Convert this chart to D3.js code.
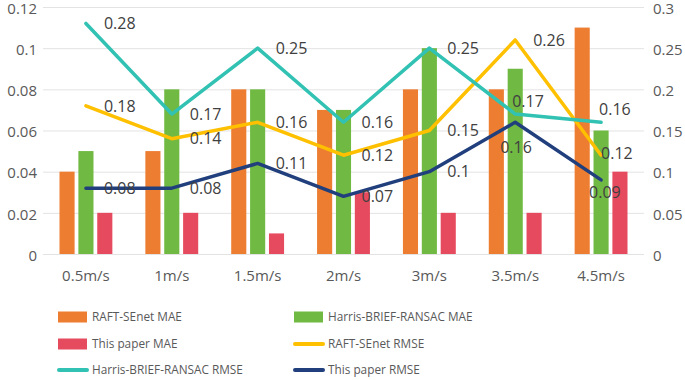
<!DOCTYPE html>
<html>
<head>
<meta charset="utf-8">
<script src="https://cdn.jsdelivr.net/npm/d3@7"></script>
<style>
  body { margin: 0; background: #fff; }
  svg { font-family: "Open Sans", sans-serif; }
</style>
</head>
<body>
<svg id="chart" width="685" height="380"></svg>
<script>
// categories and values
const speeds = ["0.5m/s", "1m/s", "1.5m/s", "2m/s", "3m/s", "3.5m/s", "4.5m/s"];
const raftMAE = [0.04, 0.05, 0.08, 0.07, 0.08, 0.08, 0.11];
const harrisMAE = [0.05, 0.08, 0.08, 0.07, 0.10, 0.09, 0.06];
const paperMAE = [0.02, 0.02, 0.01, 0.03, 0.02, 0.02, 0.04];
const raftRMSE = [0.18, 0.14, 0.16, 0.12, 0.15, 0.26, 0.12];
const harrisRMSE = [0.28, 0.17, 0.25, 0.16, 0.25, 0.17, 0.16];
const paperRMSE = [0.08, 0.08, 0.11, 0.07, 0.10, 0.16, 0.09];
const leftTicks = [0, 0.02, 0.04, 0.06, 0.08, 0.1, 0.12];
const rightTicks = [0, 0.05, 0.1, 0.15, 0.2, 0.25, 0.3];

const barSeries = [
  { name: "RAFT-SEnet MAE", values: raftMAE, color: "#ED7D31" },
  { name: "Harris-BRIEF-RANSAC MAE", values: harrisMAE, color: "#70B942" },
  { name: "This paper MAE", values: paperMAE, color: "#E64A5E" }
];
const lineSeries = [
  { name: "RAFT-SEnet RMSE", values: raftRMSE, color: "#FFC000" },
  { name: "Harris-BRIEF-RANSAC RMSE", values: harrisRMSE, color: "#31C2B3" },
  { name: "This paper RMSE", values: paperRMSE, color: "#203F7C" }
];

// some labels were moved by hand in the original to avoid overlaps
const labelNudge = {
  "Harris-BRIEF-RANSAC RMSE|5": [-21, -13],
  "This paper RMSE|5": [-33, 25],
  "Harris-BRIEF-RANSAC RMSE|6": [-20, -13],
  "RAFT-SEnet RMSE|6": [-18, -2],
  "This paper RMSE|6": [-30, 12]
};

const svg = d3.select("#chart");
const margin = { left: 43, right: 644, top: 7, bottom: 254 };

const x = d3.scaleBand().domain(speeds).range([margin.left, margin.right]);
const bw = x.bandwidth();
const x1 = d3.scaleBand().domain(barSeries.map(d => d.name))
  .range([16.5, bw - 16.5]).paddingInner(0.2);
const yL = d3.scaleLinear().domain([0, 0.12]).range([margin.bottom, margin.top]);
const yR = d3.scaleLinear().domain([0, 0.3]).range([margin.bottom, margin.top]);
const fmt = d => String(+d.toFixed(2));

// gridlines
svg.append("g").selectAll("line")
  .data(leftTicks)
  .enter().append("line")
  .attr("x1", margin.left).attr("x2", margin.right)
  .attr("y1", d => yL(d) + 0.5).attr("y2", d => yL(d) + 0.5)
  .attr("stroke", "#e3e3e3").attr("stroke-width", 1);

// left axis
const axL = svg.append("g")
  .attr("transform", `translate(${margin.left - 6},0)`)
  .call(d3.axisLeft(yL).tickValues(leftTicks).tickSize(0).tickPadding(0).tickFormat(fmt));
axL.select(".domain").remove();
axL.selectAll("text").attr("fill", "#595959").attr("dy", "0.42em").style("font-size", "15px").style("font-family", "Open Sans");

// right axis
const axR = svg.append("g")
  .attr("transform", `translate(${margin.right + 9},0)`)
  .call(d3.axisRight(yR).tickValues(rightTicks).tickSize(0).tickPadding(0).tickFormat(fmt));
axR.select(".domain").remove();
axR.selectAll("text").attr("fill", "#595959").attr("dy", "0.42em").style("font-size", "15px").style("font-family", "Open Sans");

// bottom axis
const axB = svg.append("g")
  .attr("transform", `translate(0,${margin.bottom + 16})`)
  .call(d3.axisBottom(x).tickSize(0).tickPadding(0));
axB.select(".domain").remove();
axB.selectAll("text").attr("fill", "#595959").style("font-size", "15px").style("font-family", "Open Sans");

// bars
barSeries.forEach(s => {
  svg.append("g").selectAll("rect")
    .data(s.values)
    .enter().append("rect")
    .attr("x", (d, i) => x(speeds[i]) + x1(s.name))
    .attr("y", d => yL(d))
    .attr("width", x1.bandwidth())
    .attr("height", d => margin.bottom - yL(d))
    .attr("fill", s.color);
});

// lines
const line = d3.line()
  .x((d, i) => x(speeds[i]) + bw / 2)
  .y(d => yR(d));

lineSeries.forEach(s => {
  svg.append("path")
    .datum(s.values)
    .attr("d", line)
    .attr("fill", "none")
    .attr("stroke", s.color)
    .attr("stroke-width", 3.5)
    .attr("stroke-linejoin", "round")
    .attr("stroke-linecap", "round");
});

// data labels
lineSeries.forEach(s => {
  svg.append("g").selectAll("text")
    .data(s.values)
    .enter().append("text")
    .attr("x", (d, i) => x(speeds[i]) + bw / 2 + 18 + (labelNudge[s.name + "|" + i] || [0, 0])[0])
    .attr("y", (d, i) => yR(d) + (labelNudge[s.name + "|" + i] || [0, 0])[1])
    .attr("dy", "0.36em")
    .attr("fill", "#404040")
    .style("font-size", "16px")
    .text(fmt);
});

// legend
const legendItems = [
  { s: barSeries[0], type: "bar", col: 0, row: 0 },
  { s: barSeries[1], type: "bar", col: 1, row: 0 },
  { s: barSeries[2], type: "bar", col: 0, row: 1 },
  { s: lineSeries[0], type: "line", col: 1, row: 1 },
  { s: lineSeries[1], type: "line", col: 0, row: 2 },
  { s: lineSeries[2], type: "line", col: 1, row: 2 }
];
const legX = [58, 294], legY = [317, 344, 370];
const leg = svg.append("g");
legendItems.forEach(it => {
  const lx = legX[it.col], ly = legY[it.row];
  if (it.type === "bar") {
    leg.append("rect").attr("x", lx).attr("y", ly - 5.5).attr("width", 29).attr("height", 11).attr("fill", it.s.color);
  } else {
    leg.append("line").attr("x1", lx + 1).attr("x2", lx + 29).attr("y1", ly).attr("y2", ly)
      .attr("stroke", it.s.color).attr("stroke-width", 4).attr("stroke-linecap", "round");
  }
  leg.append("text").attr("x", lx + 34).attr("y", ly).attr("dy", "0.36em")
    .attr("fill", "#595959")
    .style("font-size", "11.8px").text(it.s.name);
});
</script>
</body>
</html>
